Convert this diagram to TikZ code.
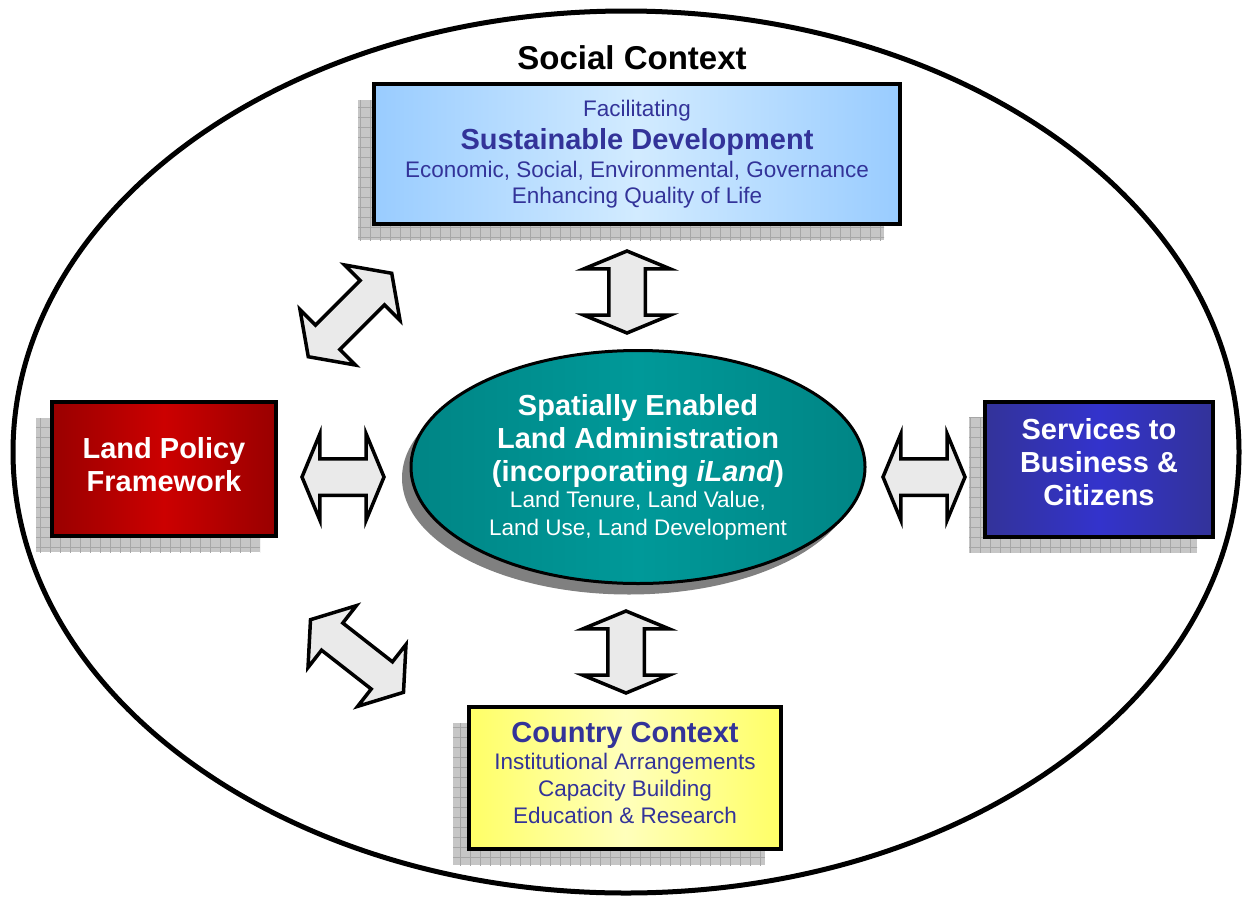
\documentclass[tikz,border=0pt]{standalone}
\usepackage{fontspec}
\setmainfont{Liberation Sans}
\usetikzlibrary{shapes,arrows}
\usetikzlibrary{positioning}
\usetikzlibrary{shadows}
\usetikzlibrary{patterns.meta}

\definecolor{sdblue}{HTML}{99CCFF}
\definecolor{sdlight}{HTML}{D2EBFF}
\definecolor{lpdark}{HTML}{990000}
\definecolor{lpred}{HTML}{CC0000}
\definecolor{bcdark}{HTML}{333399}
\definecolor{bcblue}{HTML}{3333CC}
\definecolor{ccyellow}{HTML}{FFFF66}
\definecolor{cclight}{HTML}{FFFFBB}
\definecolor{sedark}{HTML}{008585}
\definecolor{seteal}{HTML}{009999}
\definecolor{textblue}{HTML}{333399}
\definecolor{arrowgray}{HTML}{EAEAEA}

\newcommand{\regfont}{\fontsize{22.5}{26}\selectfont}
\newcommand{\boldfont}{\fontsize{29}{33}\selectfont\bfseries}

\tikzstyle{grid shadow} = [drop shadow={shadow xshift=-16pt, shadow yshift=-16pt,
                           fill=gray!45, opacity=1},
                           drop shadow={shadow xshift=-16pt, shadow yshift=-16pt,
                           pattern={Hatch[distance=10pt, angle=0, line width=0.6pt]},
                           pattern color=gray!70, opacity=1}]
\tikzstyle{box} = [rectangle, draw=black, line width=4pt, align=center,
    inner sep=0pt, grid shadow]
\tikzstyle{sdbox} = [box, left color=sdblue, right color=sdblue,
    middle color=sdlight, % after left and right color
    text=textblue, font=\regfont, minimum width=526pt, minimum height=140pt]
\tikzstyle{lpbox} = [box, left color=lpdark, right color=lpdark,
    middle color=lpred, text=white, font=\boldfont, text depth=10pt,
    minimum width=224pt, minimum height=134pt]
\tikzstyle{bcbox} = [box, left color=bcdark, right color=bcdark,
    middle color=bcblue, text=white, font=\boldfont, text depth=14pt,
    minimum width=228pt, minimum height=135pt]
\tikzstyle{ccbox} = [box, left color=ccyellow, right color=ccyellow,
    middle color=cclight, text=textblue, font=\fontsize{22.5}{27}\selectfont,
    text depth=10pt, minimum width=312pt, minimum height=142pt]
\tikzstyle{sela} = [ellipse, draw=black, line width=3pt, align=center,
    inner sep=0pt, left color=sedark, right color=sedark, middle color=seteal,
    drop shadow={shadow xshift=-9pt, shadow yshift=-11pt, fill=gray, opacity=1},
    text=white, font=\fontsize{22.5}{27.5}\selectfont,
    minimum width=454pt, minimum height=233pt]
\tikzstyle{dblarrow} = [double arrow, draw=black, line width=3.5pt,
    fill=arrowgray, inner xsep=0pt, inner ysep=16.5pt,
    minimum width=85pt, minimum height=82pt,
    double arrow head extend=25pt, double arrow tip angle=135]
\tikzstyle{diagarrow} = [dblarrow, inner ysep=15.5pt, minimum width=78pt,
    minimum height=118pt, double arrow head extend=22pt,
    double arrow tip angle=110]

\begin{document}
\begin{tikzpicture}[x=1pt, y=-1pt]
  \useasboundingbox (0,0) rectangle (1246,897);

  % Social context
  \node [ellipse, draw, line width=5pt, inner sep=0pt,
         minimum width=1226pt, minimum height=882pt] (social) at (626,452) {};
  \node [font=\fontsize{33}{36}\selectfont\bfseries] (socialtitle) at (632,58) {Social Context};

  % Place nodes
  \node [sdbox] (sustain) at (637,154)
    {Facilitating\\[6.5pt]
     {\boldfont Sustainable Development}\\[2pt]
     Economic, Social, Environmental, Governance\\
     Enhancing Quality of Life};
  \node [lpbox] (landpolicy) at (164,469) {Land Policy\\Framework};
  \node [bcbox] (services) at (1099,469) {Services to\\Business \&\\Citizens};
  \node [ccbox] (country) at (625,778)
    {{\boldfont Country Context}\\[0.5pt]
     Institutional Arrangements\\
     Capacity Building\\
     Education \& Research};
  \node [sela] (sela) at (638,467)
    {{\boldfont Spatially Enabled}\\[5.5pt]
     {\boldfont Land Administration}\\[5.5pt]
     {\boldfont (incorporating \textit{iLand})}\\[-1pt]
     Land Tenure, Land Value,\\
     Land Use, Land Development};

  % arrows
  \node [dblarrow, rotate=90] (arrtop) at (627,292) {};
  \node [dblarrow, rotate=90] (arrbottom) at (626,652) {};
  \node [dblarrow] (arrleft) at (343,477) {};
  \node [dblarrow] (arrright) at (924,477) {};
  \node [diagarrow, rotate=45] (arrul) at (350,315) {};
  \node [diagarrow, rotate=-38] (arrll) at (357,656) {};

\end{tikzpicture}
\end{document}
